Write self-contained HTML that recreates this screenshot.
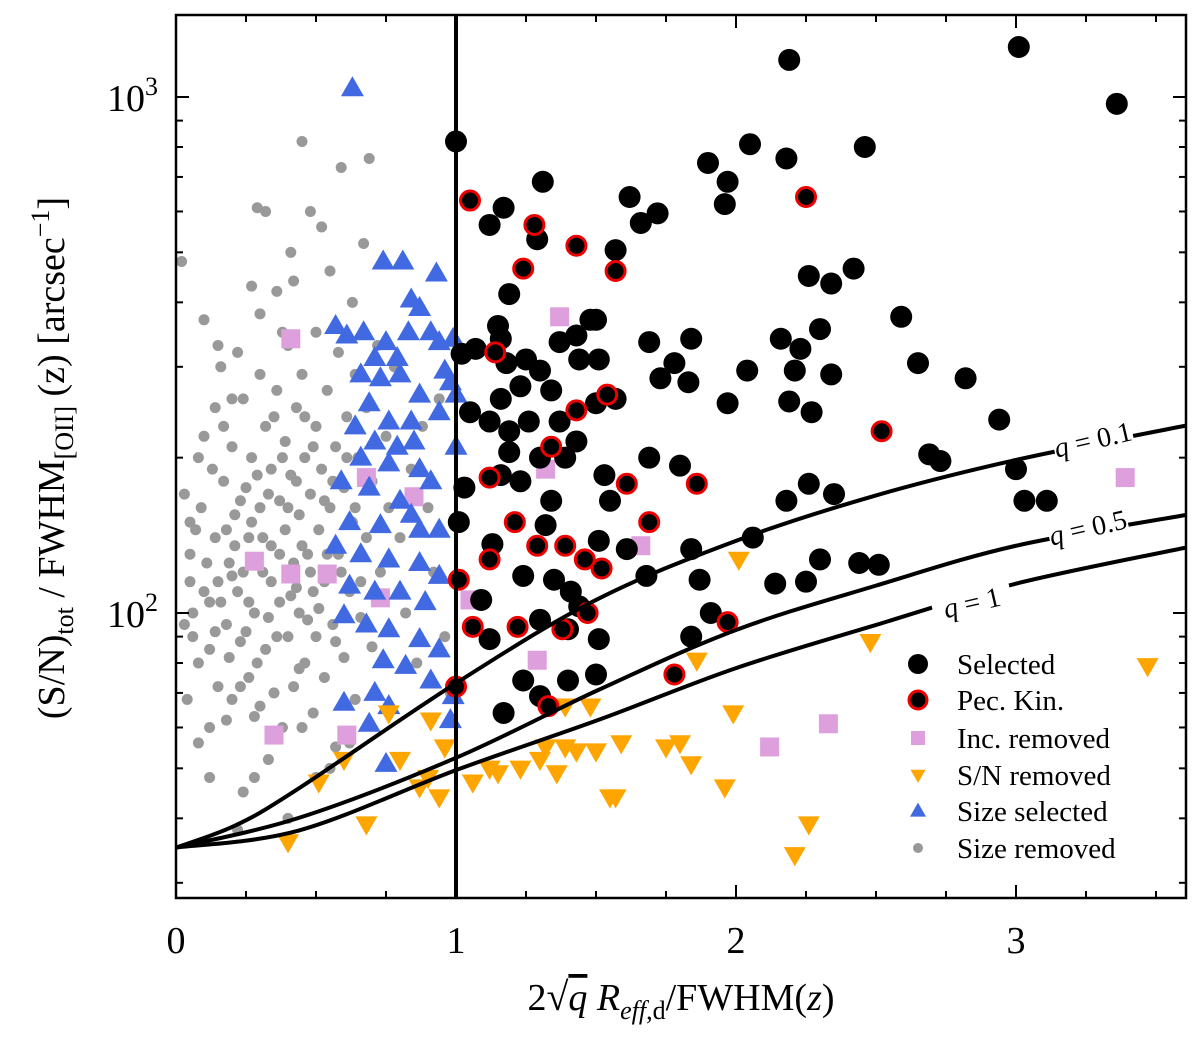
<!DOCTYPE html>
<html><head><meta charset="utf-8">
<style>
html,body{margin:0;padding:0;background:#fff;}
svg{display:block;font-family:"Liberation Serif","DejaVu Serif",serif;}
</style></head>
<body>
<svg id="chart" width="1200" height="1050" viewBox="0 0 1200 1050" xmlns="http://www.w3.org/2000/svg">
<g id="marks"></g>
<g id="axes"></g>
</svg>
<script>
// ---- data ----
const xTicks = [0, 1, 2, 3];
const yTickExp = [2, 3];
const curveX = [0, 0.21, 0.43, 1.0, 1.5, 2.0, 2.5, 3.0, 3.61];
const curveQ01 = [35.1, 38.7, 45.4, 73.1, 106, 138, 169, 198, 231];
const curveQ05X = [0, 0.44, 1.0, 1.51, 2.0, 2.5, 3.0, 3.61];
const curveQ05 = [35.1, 40.1, 52.4, 71.0, 92.7, 113, 135, 155];
const curveQ1X = [0, 0.44, 1.0, 1.51, 2.0, 2.5, 3.0, 3.61];
const curveQ1 = [35.1, 37.9, 49.6, 62.1, 78.2, 94.8, 114, 134];
const selected = [[1.00,820],[1.17,610],[1.12,565],[1.31,685],[1.29,530],[1.19,415],[1.15,360],[1.16,340],[1.02,318],[1.07,325],[1.18,305],[1.25,310],[1.30,295],[1.37,335],[1.43,345],[1.48,370],[1.44,310],[1.34,270],[1.23,275],[1.16,260],[1.05,245],[1.12,235],[1.19,225],[1.26,235],[1.37,235],[1.51,310],[1.50,255],[1.57,260],[1.43,215],[1.39,200],[1.30,200],[1.19,205],[1.16,185],[1.23,180],[1.34,165],[1.32,148],[1.51,138],[1.53,185],[1.55,165],[1.41,110],[1.44,103],[1.30,97],[1.12,89],[1.09,106],[1.01,150],[1.17,64],[1.30,69],[1.40,74],[1.50,76],[1.24,74],[1.90,745],[1.97,685],[1.96,620],[2.05,810],[2.18,760],[2.46,800],[2.19,1180],[3.01,1250],[3.36,970],[2.26,450],[2.34,435],[2.42,465],[2.30,355],[2.23,325],[2.16,340],[2.21,295],[2.34,290],[2.59,375],[2.65,305],[2.82,285],[1.84,340],[1.78,305],[1.73,285],[1.83,280],[1.69,335],[1.62,640],[1.66,570],[1.72,595],[1.57,505],[1.97,255],[2.04,295],[2.19,257],[2.27,245],[2.73,197],[2.69,203],[2.94,237],[3.00,190],[3.03,165],[3.11,165],[2.35,170],[2.18,165],[2.06,140],[1.84,133],[1.68,118],[1.61,133],[1.87,116],[1.91,100],[1.84,90],[2.26,178],[2.30,127],[2.44,125],[2.25,115],[2.14,114],[2.51,124],[1.80,193],[1.69,200],[1.51,89],[1.40,93],[1.03,175],[1.13,136],[1.24,118],[1.35,116],[1.50,370]];
const pecKin = [[1.05,630],[1.28,565],[1.43,515],[1.24,465],[1.57,460],[1.14,320],[2.25,640],[1.43,247],[1.34,210],[1.54,265],[1.12,183],[1.61,178],[1.86,178],[1.69,150],[1.21,150],[1.12,127],[1.29,135],[1.39,135],[1.46,127],[1.52,122],[1.01,116],[1.06,94],[1.22,94],[1.38,93],[1.47,100],[1.97,96],[1.78,76],[1.00,72],[1.33,66],[2.52,225]];
const sizeSelected = [[0.63,1040],[0.74,480],[0.81,480],[0.93,455],[0.84,405],[0.87,390],[0.57,360],[0.61,345],[0.67,350],[0.75,335],[0.83,350],[0.91,350],[0.94,335],[0.71,312],[0.79,312],[0.66,290],[0.73,285],[0.80,290],[0.96,295],[0.98,280],[1.00,265],[0.87,265],[0.69,255],[0.76,235],[0.84,235],[0.94,245],[0.64,230],[0.71,215],[0.79,210],[0.85,215],[0.66,200],[0.76,195],[0.87,190],[0.91,180],[0.59,180],[0.69,175],[0.80,165],[0.84,155],[0.62,150],[0.73,148],[0.87,145],[0.94,145],[0.57,135],[0.66,130],[0.76,127],[0.87,125],[0.94,118],[0.62,113],[0.71,110],[0.80,110],[0.89,105],[0.60,99],[0.68,95],[0.76,93],[0.87,89],[0.94,85],[0.74,81],[0.82,79],[0.91,74],[0.71,70],[0.99,69],[0.76,66],[0.98,62],[0.60,67],[0.69,61],[0.75,51],[1.00,210],[0.99,340]];
const sizeRemoved = [[0.02,480],[0.03,170],[0.04,68],[0.05,150],[0.06,100],[0.05,130],[0.08,200],[0.1,370],[0.1,110],[0.12,85],[0.12,60],[0.14,250],[0.14,140],[0.15,72],[0.16,300],[0.17,180],[0.18,95],[0.19,125],[0.2,210],[0.2,68],[0.21,155],[0.22,320],[0.22,110],[0.23,88],[0.24,260],[0.24,45],[0.25,175],[0.26,140],[0.26,75],[0.27,200],[0.28,100],[0.28,63],[0.29,610],[0.3,290],[0.3,160],[0.31,120],[0.32,230],[0.32,85],[0.33,52],[0.34,190],[0.34,135],[0.35,70],[0.36,420],[0.36,270],[0.37,105],[0.37,165],[0.38,60],[0.39,215],[0.39,145],[0.4,90],[0.4,330],[0.41,500],[0.41,185],[0.42,125],[0.42,72],[0.43,250],[0.44,155],[0.44,100],[0.45,820],[0.45,290],[0.46,200],[0.46,80],[0.47,130],[0.48,600],[0.48,170],[0.49,110],[0.49,64],[0.5,350],[0.5,230],[0.5,90],[0.51,145],[0.52,560],[0.52,190],[0.53,75],[0.53,115],[0.54,270],[0.55,460],[0.55,160],[0.56,95],[0.57,210],[0.57,55],[0.58,130],[0.58,320],[0.59,730],[0.6,175],[0.6,82],[0.61,240],[0.62,110],[0.63,150],[0.63,400],[0.64,68],[0.64,290],[0.65,200],[0.66,98],[0.67,520],[0.68,250],[0.68,140],[0.69,760],[0.7,180],[0.7,86],[0.72,330],[0.73,120],[0.75,220],[0.76,160],[0.78,300],[0.8,140],[0.82,100],[0.84,190],[0.86,80],[0.88,230],[0.9,160],[0.92,120],[0.94,260],[0.96,90],[0.98,70],[0.4,40],[0.22,38],[0.28,48],[0.18,62],[0.12,48],[0.08,56],[0.06,90],[0.07,145],[0.03,95],[0.35,58],[0.45,60],[0.55,50],[0.62,56],[0.5,48],[0.15,115],[0.25,92],[0.33,98],[0.43,112],[0.47,97],[0.2,260],[0.15,330],[0.1,220],[0.3,380],[0.38,350],[0.27,430],[0.32,600],[0.42,440],[0.09,160],[0.11,125],[0.13,190],[0.16,105],[0.17,230],[0.19,82],[0.21,135],[0.23,165],[0.24,120],[0.26,105],[0.27,150],[0.29,185],[0.29,80],[0.31,140],[0.33,170],[0.34,115],[0.35,240],[0.36,90],[0.37,130],[0.38,200],[0.4,160],[0.41,108],[0.43,180],[0.44,78],[0.45,135],[0.46,240],[0.48,120],[0.49,210],[0.51,102],[0.53,165],[0.54,130],[0.56,180],[0.57,88],[0.59,120],[0.61,200],[0.64,160],[0.66,115],[0.12,105],[0.08,80],[0.05,115],[0.14,92],[0.18,145],[0.2,118],[0.23,72],[0.3,66]];
const snRemoved = [[3.47,79],[2.01,127],[2.48,88],[1.86,81],[1.99,64],[0.76,64],[0.91,62],[0.90,48],[0.94,44],[0.40,36],[0.68,39],[0.87,46],[1.12,50],[1.23,50],[1.06,47],[1.32,55],[1.39,55],[1.43,54],[1.50,54],[1.59,56],[1.39,66],[1.48,66],[1.75,55],[1.80,56],[1.84,51],[1.55,44],[1.57,44],[1.96,46],[2.26,39],[2.21,34],[0.60,52],[0.51,47],[1.15,49],[1.36,49],[1.30,52],[0.96,55],[0.80,52]];
const incRemoved = [[0.41,340],[1.37,375],[1.32,190],[0.68,183],[0.85,168],[1.66,135],[0.28,126],[0.41,119],[0.54,119],[0.73,107],[1.05,106],[1.29,81],[0.61,58],[0.35,58],[2.33,61],[2.12,55],[3.39,183]];

// ---- axes ----
const L=176,R=1186,T=15,B=898;
const xMin=0,xMax=(R-L)/280;
const yLogMin=2-(B-613)/516, yLogMax=3+(97-T)/516;
const sx=v=>L+(v-xMin)/(xMax-xMin)*(R-L);
const sy=v=>B-(Math.log10(v)-yLogMin)/(yLogMax-yLogMin)*(B-T);
const NS="http://www.w3.org/2000/svg";
const marks=document.getElementById('marks'), axes=document.getElementById('axes');
function mk(tag,attrs,parent){const e=document.createElementNS(NS,tag);for(const k in attrs)e.setAttribute(k,attrs[k]);parent.appendChild(e);return e;}

const defs=mk('defs',{},marks);
const cp=mk('clipPath',{id:'clip'},defs);
mk('rect',{x:L,y:T,width:R-L,height:B-T},cp);
const g=mk('g',{'clip-path':'url(#clip)'},marks);

function circle(par,x,y,r,fill,stroke,sw,name){const e=mk('circle',{cx:x,cy:y,r:r,fill:fill,stroke:stroke,'stroke-width':sw},par);

return e;}
function tri(par,x,y,s,up,fill,name){const h=s*0.87;const p=up?`${x},${y-h*0.6} ${x-s/2},${y+h*0.4} ${x+s/2},${y+h*0.4}`:`${x},${y+h*0.6} ${x-s/2},${y-h*0.4} ${x+s/2},${y-h*0.4}`;const e=mk('polygon',{points:p,fill:fill},par);

return e;}
function sq(par,x,y,s,fill,name){const e=mk('rect',{x:x-s/2,y:y-s/2,width:s,height:s,fill:fill},par);

return e;}

sizeRemoved.forEach(d=>circle(g,sx(d[0]),sy(d[1]),5.5,'#999999','none',0,'size-removed-point'));
incRemoved.forEach(d=>sq(g,sx(d[0]),sy(d[1]),19,'#dda0dd','inc-removed-point'));
sizeSelected.forEach(d=>tri(g,sx(d[0]),sy(d[1]),23,true,'#4169e1','size-selected-point'));
snRemoved.forEach(d=>tri(g,sx(d[0]),sy(d[1]),22,false,'#ffa500','sn-removed-point'));
selected.forEach(d=>circle(g,sx(d[0]),sy(d[1]),11,'#000','none',0,'selected-point'));
pecKin.forEach(d=>circle(g,sx(d[0]),sy(d[1]),9.5,'#000','#ee0000',3,'pec-kin-point'));

function smoothCurve(xs,ys,name){
const P=xs.map((x,i)=>[sx(x),sy(ys[i])]);let d='M'+P[0][0]+','+P[0][1];
for(let i=0;i<P.length-1;i++){const p0=P[Math.max(0,i-1)],p1=P[i],p2=P[i+1],p3=P[Math.min(P.length-1,i+2)];
d+=` C${p1[0]+(p2[0]-p0[0])/6},${p1[1]+(p2[1]-p0[1])/6} ${p2[0]-(p3[0]-p1[0])/6},${p2[1]-(p3[1]-p1[1])/6} ${p2[0]},${p2[1]}`;}
const e=mk('path',{d:d,fill:'none',stroke:'#000','stroke-width':4},g);

}
smoothCurve(curveX,curveQ01,'curve-q-0.1');
smoothCurve(curveQ05X,curveQ05,'curve-q-0.5');
smoothCurve(curveQ1X,curveQ1,'curve-q-1');

function clabel(x,y,txt,name){const gg=mk('g',{transform:`translate(${x},${y}) rotate(-13)`},g);
mk('rect',{x:-40,y:-17,width:80,height:32,fill:'#fff'},gg);
const t=mk('text',{x:0,y:9,'font-size':28,'text-anchor':'middle'},gg);
t.innerHTML='<tspan font-style="italic">q</tspan> = '+txt;

}
clabel(1093,440,'0.1','label-q-0.1');
clabel(1088,528,'0.5','label-q-0.5');
clabel(972,603,'1','label-q-1');

const vl=mk('line',{x1:sx(1),x2:sx(1),y1:T,y2:B,stroke:'#000','stroke-width':4},g);



const fr=mk('rect',{x:L,y:T,width:R-L,height:B-T,fill:'none',stroke:'#000','stroke-width':2.5},axes);



for(let v=0;v<=3.6;v+=0.25){const X=sx(v);const major=Math.abs(v-Math.round(v))<1e-6;const len=major?13:7;
mk('line',{x1:X,x2:X,y1:B,y2:B-len,stroke:'#000','stroke-width':2},axes);
mk('line',{x1:X,x2:X,y1:T,y2:T+len,stroke:'#000','stroke-width':2},axes);}
xTicks.forEach(v=>{const t=mk('text',{x:sx(v),y:953,'font-size':38,'text-anchor':'middle'},axes);t.textContent=v;

});
for(let e=1;e<=3;e++){for(let m=1;m<=9;m++){const v=m*Math.pow(10,e);const Y=sy(v);if(Y<T||Y>B)continue;const len=m===1?13:7;
mk('line',{x1:L,x2:L+len,y1:Y,y2:Y,stroke:'#000','stroke-width':2},axes);
mk('line',{x1:R,x2:R-len,y1:Y,y2:Y,stroke:'#000','stroke-width':2},axes);}}
yTickExp.forEach(e=>{const t=mk('text',{x:158,y:sy(Math.pow(10,e))+14,'font-size':38,'text-anchor':'end'},axes);
t.innerHTML='10<tspan font-size="26" dy="-16">'+e+'</tspan>';

});

const lg=mk('g',{},axes);


const legY=[664,700,738,775,811,848];
const legText=['Selected','Pec. Kin.','Inc. removed','S/N removed','Size selected','Size removed'];
circle(lg,918,legY[0],10,'#000','none',0,'legend-marker-selected');
circle(lg,918,legY[1],9,'#000','#ee0000',3,'legend-marker-pec-kin');
sq(lg,918,legY[2],14,'#dda0dd','legend-marker-inc-removed');
tri(lg,918,legY[3],15,false,'#ffa500','legend-marker-sn-removed');
tri(lg,918,legY[4],16,true,'#4169e1','legend-marker-size-selected');
circle(lg,918,legY[5],5,'#999999','none',0,'legend-marker-size-removed');
legText.forEach((s,i)=>{const t=mk('text',{x:957,y:legY[i]+10,'font-size':29},lg);t.textContent=s;

});
</script>
<div style="position:absolute;left:0;top:0;width:1200px;height:1050px;pointer-events:none;">
<svg width="1200" height="1050" style="position:absolute;left:0;top:0;font-family:'Liberation Serif','DejaVu Serif',serif;">
<text x="681" y="1010" font-size="38" text-anchor="middle">2<tspan font-size="40">√</tspan><tspan text-decoration="overline" font-style="italic">q</tspan> <tspan font-style="italic">R</tspan><tspan font-size="26" dy="9"><tspan font-style="italic">eff</tspan>,d</tspan><tspan dy="-9">/FWHM(</tspan><tspan font-style="italic">z</tspan>)</text>
<text transform="translate(64,458) rotate(-90)" font-size="38" text-anchor="middle">(S/N)<tspan font-size="26" dy="9">tot</tspan><tspan dy="-9"> / FWHM</tspan><tspan font-size="26" dy="9">[OII]</tspan><tspan dy="-9"> (z) [arcsec</tspan><tspan font-size="26" dy="-15">−1</tspan><tspan dy="15">]</tspan></text>
</svg>
</div>
</body></html>
